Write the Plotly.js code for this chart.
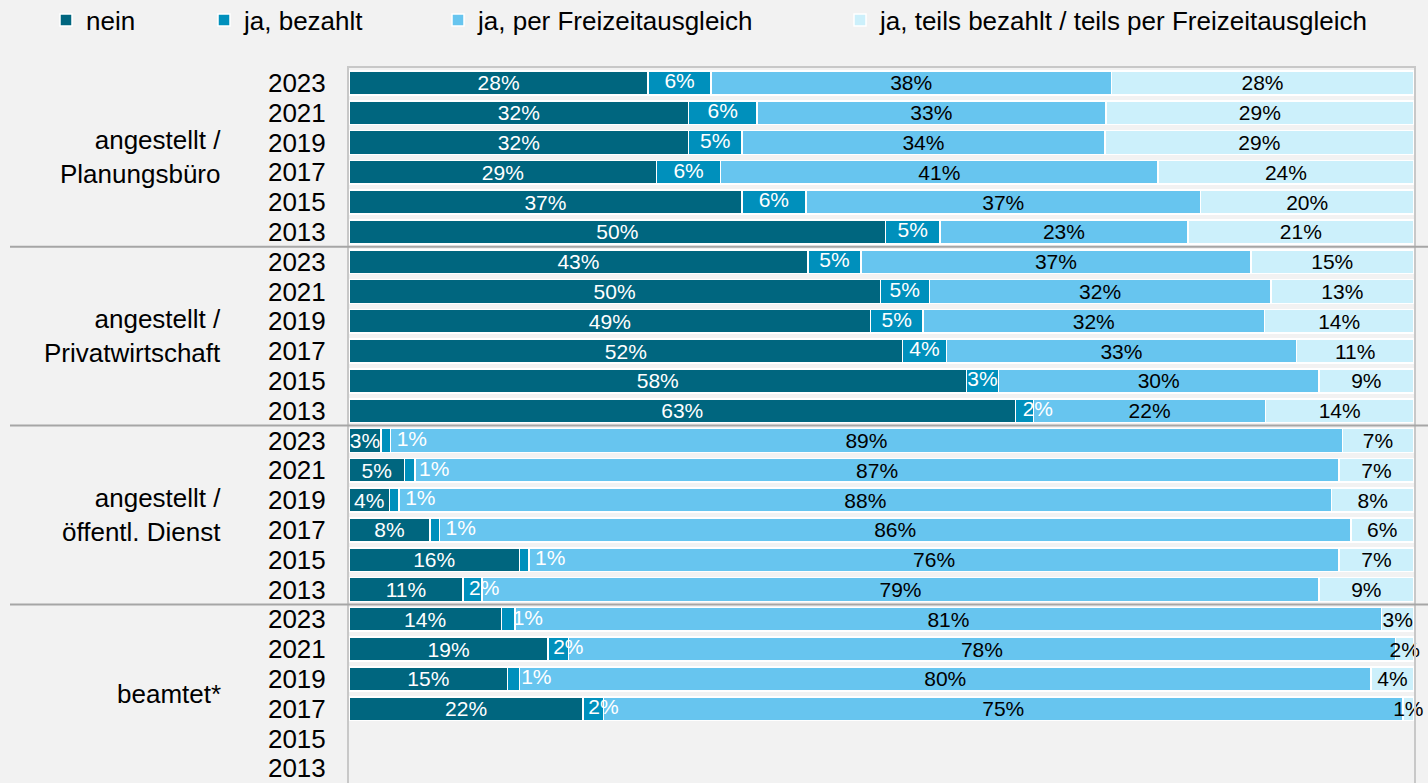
<!DOCTYPE html>
<html>
<head>
<meta charset="utf-8">
<script src="https://cdn.plot.ly/plotly-3.0.1.min.js"></script>
<style>html,body{margin:0;padding:0;background:#f2f2f2;}#chart{width:1428px;height:783px;}</style>
</head>
<body>
<div id="chart"></div>
<script>
// ---- data ----
const groups = ['angestellt /<br>Planungsbüro', 'angestellt /<br>Privatwirtschaft', 'angestellt /<br>öffentl. Dienst', 'beamtet*'];
const years = ['2023', '2021', '2019', '2017', '2015', '2013'];
const seriesNames = ['nein', 'ja, bezahlt', 'ja, per Freizeitausgleich', 'ja, teils bezahlt / teils per Freizeitausgleich'];

// values in %, rows: group by group, years 2023..2013
const nein = [
  28.1, 31.9, 31.9, 28.9, 36.9, 50.4,
  43.1, 49.9, 49.0, 52.0, 58.0, 62.6,
  3.0, 5.2, 3.8, 7.6, 16.0, 10.7,
  14.3, 18.7, 14.9, 22.0, null, null
];
const bezahlt = [
  5.9, 6.4, 5.0, 6.0, 6.0, 5.1,
  5.0, 4.6, 4.9, 4.1, 3.0, 1.7,
  0.9, 1.0, 0.9, 0.9, 0.9, 1.8,
  1.3, 1.9, 1.1, 1.9, null, null
];
const freizeit = [
  37.6, 32.8, 34.1, 41.1, 37.1, 23.3,
  36.6, 32.1, 32.1, 32.9, 30.1, 21.8,
  89.4, 86.8, 87.6, 85.6, 76.1, 78.6,
  81.4, 77.7, 80.0, 75.1, null, null
];
const teils = [
  28.4, 28.9, 29.0, 24.0, 20.0, 21.2,
  15.3, 13.4, 14.0, 11.0, 8.9, 13.9,
  6.7, 7.0, 7.7, 5.9, 7.0, 8.9,
  3.0, 1.7, 4.0, 1.0, null, null
];

// ---- layout helpers ----
const W = 1428, H = 783;
const M = {l: 349, r: 14, t: 68, b: 0, autoexpand: false};
const PW = W - M.l - M.r;
const PH = H - M.t - M.b;
const rowPx = 29.8;
const nRows = groups.length * years.length;
const px2x = p => (p - M.l) / PW;
const px2y = p => (H - M.b - p) / PH;

const rowIdx = [];
const tickText = [];
for (let g = 0; g < groups.length; g++) {
  for (let k = 0; k < years.length; k++) {
    rowIdx.push(g * years.length + k);
    tickText.push(years[k]);
  }
}

const colors = ['#00667f', '#0090bc', '#67c5ef', '#ccf0fb'];
const textColors = ['#ffffff', '#ffffff', '#000000', '#000000'];
const vals = [nein, bezahlt, freizeit, teils];

const legendNames = ['legend', 'legend2', 'legend3', 'legend4'];
const legendTextStart = [86, 244, 478, 880];

const traces = vals.map((v, i) => ({
  type: 'bar',
  orientation: 'h',
  name: seriesNames[i],
  legend: legendNames[i],
  x: v,
  y: rowIdx,
  marker: {color: colors[i], line: {color: '#ffffff', width: 1.5}},
  texttemplate: i === 1 ? '' : '%{x:.0f}%',
  textposition: 'inside',
  insidetextanchor: 'middle',
  constraintext: 'none',
  textangle: 0,
  cliponaxis: false,
  textfont: {family: 'Liberation Sans, Arial, sans-serif', size: 21, color: textColors[i]},
  hoverinfo: 'x+name'
}));

// labels for "ja, bezahlt" (small segments: label pushed to the right like the original)
const bezX = [], bezY = [], bezT = [];
for (let r = 0; r < nRows; r++) {
  if (bezahlt[r] == null) continue;
  bezX.push(nein[r] + Math.max(bezahlt[r] / 2, 3.8 - bezahlt[r]));
  bezY.push(rowIdx[r]);
  bezT.push(bezahlt[r].toFixed(0) + '%');
}
traces.push({
  type: 'scatter', mode: 'text', x: bezX, y: bezY, text: bezT,
  textposition: 'middle center', cliponaxis: false, showlegend: false, hoverinfo: 'skip',
  textfont: {family: 'Liberation Sans, Arial, sans-serif', size: 21, color: '#ffffff'}
});

const legendObj = i => ({
  orientation: 'h',
  x: px2x(legendTextStart[i] - 40),
  xanchor: 'left',
  y: px2y(20),
  yanchor: 'middle',
  bgcolor: 'rgba(0,0,0,0)',
  borderwidth: 0,
  font: {family: 'Liberation Sans, Arial, sans-serif', size: 26, color: '#000000'},
  itemclick: false, itemdoubleclick: false
});

const shapes = [];
for (let g = 1; g < groups.length; g++) {
  const yb = g * years.length - 0.5;
  shapes.push({
    type: 'line', xref: 'paper', yref: 'y',
    x0: px2x(10), x1: px2x(1428), y0: yb, y1: yb,
    line: {color: '#a6a6a6', width: 2}
  });
}

const annotations = groups.map((g, i) => ({
  xref: 'paper', yref: 'y',
  x: px2x(223), xanchor: 'right', align: 'right',
  y: i * years.length + (years.length - 1) / 2, yanchor: 'middle',
  text: g, showarrow: false,
  font: {family: 'Liberation Sans, Arial, sans-serif', size: 26, color: '#000000'}
}));

const layout = {
  width: W, height: H,
  margin: M,
  paper_bgcolor: '#f2f2f2',
  plot_bgcolor: '#f2f2f2',
  barmode: 'stack',
  bargap: 0.2,
  showlegend: true,
  legend: legendObj(0), legend2: legendObj(1), legend3: legendObj(2), legend4: legendObj(3),
  xaxis: {
    range: [0, 100.03], side: 'top', showline: true, linecolor: '#c8c8c8', linewidth: 2,
    showgrid: false, zeroline: false, showticklabels: false, ticks: '', fixedrange: true
  },
  yaxis: {
    range: [-0.5 + PH / rowPx, -0.5],
    tickmode: 'array', tickvals: rowIdx, ticktext: tickText,
    showline: true, mirror: true, linecolor: '#c8c8c8', linewidth: 2,
    showgrid: false, zeroline: false, ticks: '', ticklabelstandoff: 16,
    ticklabeloverflow: 'allow',
    tickfont: {family: 'Liberation Sans, Arial, sans-serif', size: 26, color: '#000000'},
    fixedrange: true
  },
  shapes: shapes,
  annotations: annotations,
  font: {family: 'Liberation Sans, Arial, sans-serif'}
};

Plotly.newPlot('chart', traces, layout, {displayModeBar: false, staticPlot: true});
</script>
</body>
</html>
